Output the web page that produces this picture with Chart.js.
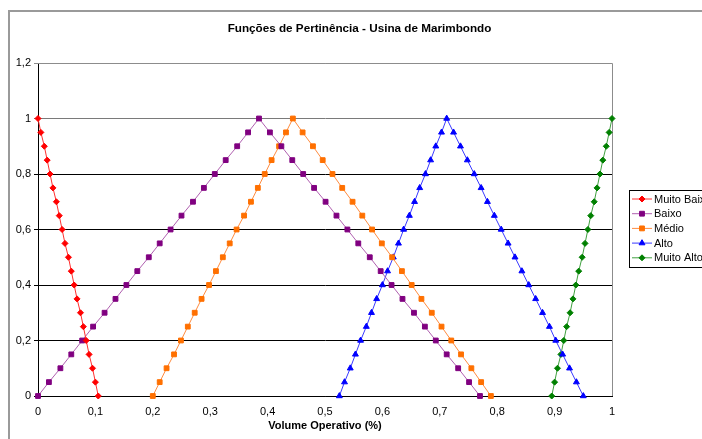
<!DOCTYPE html>
<html>
<head>
<meta charset="utf-8">
<script src="https://cdn.jsdelivr.net/npm/chart.js@4/dist/chart.umd.min.js"></script>
<style>
  html, body { margin: 0; padding: 0; background: #fff; }
  canvas { display: block; }
</style>
</head>
<body>
<canvas id="c" width="702" height="439"></canvas>
<script>
// ---- data ----
const chartTitle = 'Funções de Pertinência - Usina de Marimbondo';
const xAxisTitle = 'Volume Operativo (%)';
const seriesNames = ['Muito Baixo', 'Baixo', 'Médio', 'Alto', 'Muito Alto'];
const xTickLabels = ['0', '0,1', '0,2', '0,3', '0,4', '0,5', '0,6', '0,7', '0,8', '0,9', '1'];
const yTickLabels = ['0', '0,2', '0,4', '0,6', '0,8', '1', '1,2'];

const muitoBaixoX = [0, 0.005, 0.011, 0.016, 0.021, 0.026, 0.032, 0.037, 0.042, 0.047, 0.053, 0.058, 0.063, 0.068, 0.074, 0.079, 0.084, 0.089, 0.095, 0.100, 0.105];
const muitoBaixoY = [1, 0.95, 0.9, 0.85, 0.8, 0.75, 0.7, 0.65, 0.6, 0.55, 0.5, 0.45, 0.4, 0.35, 0.3, 0.25, 0.2, 0.15, 0.1, 0.05, 0];

const baixoX = [0, 0.019, 0.039, 0.058, 0.077, 0.096, 0.116, 0.135, 0.154, 0.173, 0.193, 0.212, 0.231, 0.250, 0.270, 0.289, 0.308, 0.327, 0.347, 0.366, 0.385,
                0.404, 0.424, 0.443, 0.462, 0.481, 0.501, 0.520, 0.539, 0.558, 0.578, 0.597, 0.616, 0.635, 0.655, 0.674, 0.693, 0.712, 0.732, 0.751, 0.770];
const baixoY = [0, 0.05, 0.1, 0.15, 0.2, 0.25, 0.3, 0.35, 0.4, 0.45, 0.5, 0.55, 0.6, 0.65, 0.7, 0.75, 0.8, 0.85, 0.9, 0.95, 1,
                0.95, 0.9, 0.85, 0.8, 0.75, 0.7, 0.65, 0.6, 0.55, 0.5, 0.45, 0.4, 0.35, 0.3, 0.25, 0.2, 0.15, 0.1, 0.05, 0];

const medioX = [0.2, 0.212, 0.224, 0.237, 0.249, 0.261, 0.273, 0.285, 0.298, 0.310, 0.322, 0.334, 0.346, 0.359, 0.371, 0.383, 0.395, 0.407, 0.420, 0.432, 0.444,
                0.461, 0.479, 0.496, 0.513, 0.530, 0.548, 0.565, 0.582, 0.599, 0.617, 0.634, 0.651, 0.668, 0.686, 0.703, 0.720, 0.737, 0.755, 0.772, 0.789];
const medioY = [0, 0.05, 0.1, 0.15, 0.2, 0.25, 0.3, 0.35, 0.4, 0.45, 0.5, 0.55, 0.6, 0.65, 0.7, 0.75, 0.8, 0.85, 0.9, 0.95, 1,
                0.95, 0.9, 0.85, 0.8, 0.75, 0.7, 0.65, 0.6, 0.55, 0.5, 0.45, 0.4, 0.35, 0.3, 0.25, 0.2, 0.15, 0.1, 0.05, 0];

const altoX = [0.525, 0.534, 0.544, 0.553, 0.562, 0.572, 0.581, 0.590, 0.600, 0.609, 0.619, 0.628, 0.637, 0.647, 0.656, 0.665, 0.675, 0.684, 0.693, 0.703, 0.712,
               0.724, 0.736, 0.748, 0.760, 0.772, 0.783, 0.795, 0.807, 0.819, 0.831, 0.843, 0.855, 0.867, 0.879, 0.891, 0.902, 0.914, 0.926, 0.938, 0.950];
const altoY = [0, 0.05, 0.1, 0.15, 0.2, 0.25, 0.3, 0.35, 0.4, 0.45, 0.5, 0.55, 0.6, 0.65, 0.7, 0.75, 0.8, 0.85, 0.9, 0.95, 1,
               0.95, 0.9, 0.85, 0.8, 0.75, 0.7, 0.65, 0.6, 0.55, 0.5, 0.45, 0.4, 0.35, 0.3, 0.25, 0.2, 0.15, 0.1, 0.05, 0];

const muitoAltoX = [0.895, 0.900, 0.905, 0.911, 0.916, 0.921, 0.927, 0.932, 0.937, 0.942, 0.948, 0.953, 0.958, 0.963, 0.969, 0.974, 0.979, 0.984, 0.990, 0.995, 1.000];
const muitoAltoY = [0, 0.05, 0.1, 0.15, 0.2, 0.25, 0.3, 0.35, 0.4, 0.45, 0.5, 0.55, 0.6, 0.65, 0.7, 0.75, 0.8, 0.85, 0.9, 0.95, 1];

// ---- build ----
const toPts = (xs, ys) => xs.map((x, i) => ({ x: x, y: ys[i] }));
const styles = [
  { line: '#ff3030', point: '#ff0000', style: 'rectRot', r: 3 },
  { line: '#b060b0', point: '#800080', style: 'rect', r: 3.4 },
  { line: '#ff8c40', point: '#ff7000', style: 'rect', r: 3.4 },
  { line: '#3a3aff', point: '#0000ff', style: 'triangle', r: 3.4 },
  { line: '#40a040', point: '#008000', style: 'rectRot', r: 3 }
];
const seriesData = [
  toPts(muitoBaixoX, muitoBaixoY),
  toPts(baixoX, baixoY),
  toPts(medioX, medioY),
  toPts(altoX, altoY),
  toPts(muitoAltoX, muitoAltoY)
];

const FONT = 'Arial, "Liberation Sans", sans-serif';

const decorPlugin = {
  id: 'decor',
  beforeDraw(chart) {
    const ctx = chart.ctx;
    ctx.save();
    ctx.fillStyle = '#fff';
    ctx.fillRect(0, 0, chart.width, chart.height);
    // outer chart border (partially cropped)
    ctx.strokeStyle = '#9a9a9a';
    ctx.lineWidth = 2;
    ctx.beginPath();
    ctx.moveTo(9, chart.height + 5);
    ctx.lineTo(9, 11);
    ctx.lineTo(chart.width + 5, 11);
    ctx.stroke();
    // title
    ctx.fillStyle = '#000';
    ctx.font = 'bold 11.7px ' + FONT;
    ctx.textAlign = 'center';
    ctx.textBaseline = 'middle';
    ctx.fillText(chartTitle, 359.5, 29);
    ctx.restore();
  },
  beforeDatasetsDraw(chart) {
    const a = chart.chartArea;
    const ctx = chart.ctx;
    ctx.save();
    ctx.strokeStyle = '#8c8c8c';
    ctx.lineWidth = 1;
    ctx.beginPath();
    ctx.moveTo(a.left, a.top + 0.5);
    ctx.lineTo(a.right + 0.5, a.top + 0.5);
    ctx.lineTo(a.right + 0.5, a.bottom);
    ctx.stroke();
    ctx.restore();
  },
  afterDraw(chart) {
    const ctx = chart.ctx;
    ctx.save();
    // legend box
    const bx = 629.5, by = 190.5, bw = 90, bh = 77;
    ctx.strokeStyle = '#000';
    ctx.lineWidth = 1;
    ctx.strokeRect(bx, by, bw, bh);
    ctx.font = '11px ' + FONT;
    ctx.textAlign = 'left';
    ctx.textBaseline = 'middle';
    chart.data.datasets.forEach((ds, i) => {
      const y = 199 + i * 14.7;
      ctx.strokeStyle = ds.borderColor;
      ctx.lineWidth = 1;
      ctx.beginPath();
      ctx.moveTo(632, y);
      ctx.lineTo(652, y);
      ctx.stroke();
      ctx.fillStyle = ds.pointBackgroundColor;
      ctx.strokeStyle = ds.pointBorderColor;
      Chart.helpers.drawPoint(ctx, { pointStyle: ds.pointStyle, radius: ds.pointRadius, rotation: 0, borderWidth: 1 }, 642, y);
      ctx.fillStyle = '#000';
      ctx.fillText(ds.label, 654, y + 0.5);
    });
    ctx.restore();
  }
};

new Chart(document.getElementById('c'), {
  type: 'scatter',
  data: {
    datasets: seriesNames.map((name, i) => ({
      label: name,
      data: seriesData[i],
      showLine: true,
      clip: false,
      borderColor: styles[i].line,
      borderWidth: 1,
      pointStyle: styles[i].style,
      pointRadius: styles[i].r,
      pointBackgroundColor: styles[i].point,
      pointBorderColor: styles[i].point,
      pointBorderWidth: 1,
      tension: 0
    }))
  },
  options: {
    responsive: false,
    animation: false,
    events: [],
    layout: { padding: { left: 0, top: 63, right: 90, bottom: 0 } },
    plugins: {
      legend: { display: false },
      title: { display: false },
      tooltip: { enabled: false }
    },
    scales: {
      x: {
        type: 'linear',
        min: 0, max: 1,
        afterFit(scale) { scale.height = 43; },
        ticks: {
          stepSize: 0.1,
          padding: 9,
          color: '#000',
          font: { family: FONT, size: 11 },
          maxRotation: 0,
          callback: (v, i) => xTickLabels[Math.round(v * 10)]
        },
        grid: { display: false, drawTicks: false },
        border: { display: true, color: '#000', width: 1 },
        title: {
          display: true,
          text: xAxisTitle,
          color: '#000',
          font: { family: FONT, size: 11, weight: 'bold' },
          padding: { top: 0, bottom: 6 }
        }
      },
      y: {
        type: 'linear',
        min: 0, max: 1.2,
        afterFit(scale) { scale.width = 38; },
        ticks: {
          stepSize: 0.2,
          padding: 3,
          color: '#000',
          font: { family: FONT, size: 11 },
          callback: (v) => yTickLabels[Math.round(v * 5)]
        },
        grid: {
          tickLength: 4,
          color: (c) => {
            const v = c.tick ? c.tick.value : 0;
            if (Math.abs(v - 1.2) < 1e-6) return '#8c8c8c';
            if (Math.abs(v - 1) < 1e-6) return '#7a7a7a';
            return '#000';
          },
          lineWidth: 1
        },
        border: { display: true, color: '#000', width: 1 }
      }
    }
  },
  plugins: [decorPlugin]
});
</script>
</body>
</html>
